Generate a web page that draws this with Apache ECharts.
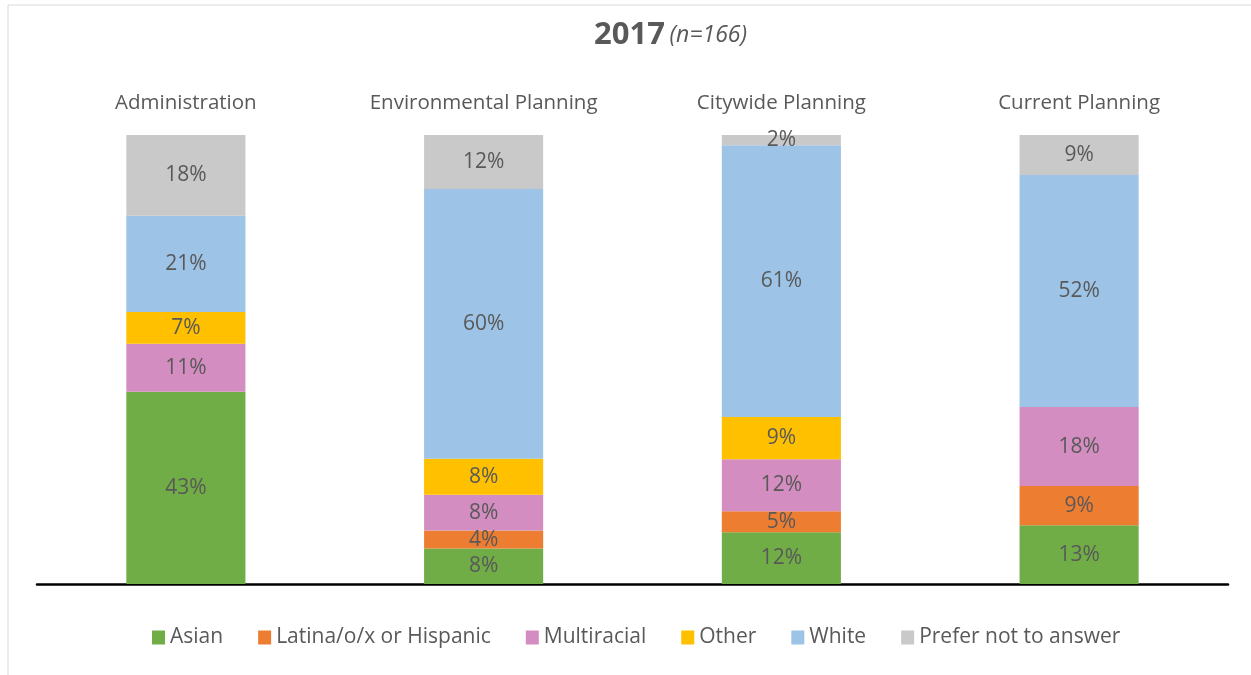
<!DOCTYPE html>
<html><head><meta charset="utf-8">
<script src="https://cdn.jsdelivr.net/npm/echarts@6/dist/echarts.min.js"></script>
<style>html,body{margin:0;padding:0;background:#fff}#c{width:1251px;height:675px}</style>
</head><body><div id="c"></div>
<script>
const categories = ['Administration', 'Environmental Planning', 'Citywide Planning', 'Current Planning'];
const seriesNames = ['Asian', 'Latina/o/x or Hispanic', 'Multiracial', 'Other', 'White', 'Prefer not to answer'];
const asian = [42.8, 7.9, 11.5, 13.1];
const latina = [0, 4.0, 4.7, 8.7];
const multiracial = [10.7, 8.0, 11.6, 17.6];
const other = [7.1, 8.0, 9.4, 0];
const white = [21.4, 60.1, 60.5, 51.7];
const preferNot = [18.0, 12.0, 2.3, 8.9];
const colors = ['#70AD47', '#ED7D31', '#D48DC0', '#FFC000', '#9DC3E6', '#C9C9C9'];
const valueArrays = [asian, latina, multiracial, other, white, preferNot];

const FONT = 'Open Sans';
const chart = echarts.init(document.getElementById('c'));
chart.setOption({
  animation: false,
  color: colors,
  textStyle: { fontFamily: FONT },
  graphic: [
    { type: 'line', shape: { x1: 8, y1: 5, x2: 1251, y2: 5 }, style: { stroke: '#D9D9D9', lineWidth: 1 } },
    { type: 'line', shape: { x1: 8, y1: 5, x2: 8, y2: 675 }, style: { stroke: '#D9D9D9', lineWidth: 1 } }
  ],
  title: {
    text: '{b|2017} {i|(n=166)}',
    left: 589, top: 15,
    textStyle: {
      fontWeight: 'normal',
      rich: {
        b: { fontSize: 31, fontWeight: 'bold', color: '#595959', fontFamily: FONT },
        i: { fontSize: 23, fontStyle: 'italic', fontWeight: 'normal', color: '#595959', fontFamily: FONT }
      }
    }
  },
  legend: {
    bottom: 22, left: 147,
    itemWidth: 13, itemHeight: 14, itemGap: 35,
    icon: 'rect',
    textStyle: { fontSize: 21, color: '#595959', fontFamily: FONT },
    data: seriesNames
  },
  grid: { left: 37, right: 23, top: 135, bottom: 91 },
  xAxis: [
    { type: 'category', data: categories, position: 'bottom',
      axisLine: { lineStyle: { color: '#000', width: 2.5 } },
      axisTick: { show: false }, axisLabel: { show: false } },
    { type: 'category', data: categories, position: 'top',
      axisLine: { show: false }, axisTick: { show: false },
      axisLabel: { margin: 21, fontSize: 20.5, color: '#595959', fontFamily: FONT } }
  ],
  yAxis: { type: 'value', min: 0, max: 100, show: false, splitLine: { show: false } },
  series: seriesNames.map((name, i) => ({
    name, type: 'bar', stack: 'total', barWidth: '40%', xAxisIndex: 0,
    data: valueArrays[i],
    itemStyle: { color: colors[i] },
    label: {
      show: true, position: 'inside', fontSize: 21, color: '#595959', fontFamily: FONT,
      formatter: p => p.value > 0 ? Math.round(p.value) + '%' : ''
    }
  }))
});
</script></body></html>
